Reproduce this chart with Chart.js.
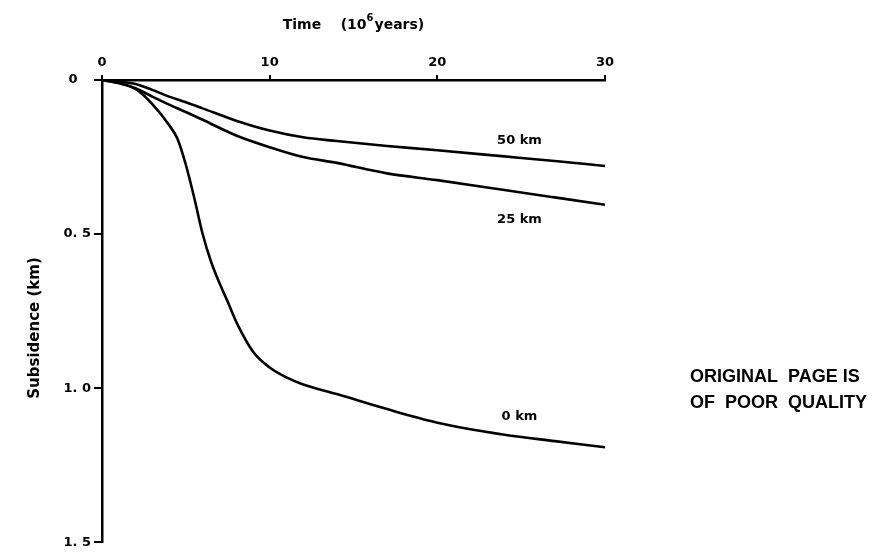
<!DOCTYPE html>
<html>
<head>
<meta charset="utf-8">
<script src="https://cdn.jsdelivr.net/npm/chart.js@4.4.1/dist/chart.umd.min.js"></script>
<style>
  html, body { margin: 0; padding: 0; background: #fff; }
  #wrap { width: 885px; height: 553px; }
</style>
</head>
<body>
<div id="wrap"><canvas id="chart" width="885" height="553"></canvas></div>
<script>
// ===== Data (time in 10^6 years, subsidence in km) =====
const xTicks = [0, 10, 20, 30];
const yTicks = [0, 0.5, 1.0, 1.5];
const yTickLabels = ['0   ', '0. 5', '1. 0', '1. 5'];

const times50 = [0, 1, 2, 3, 4, 5, 6, 8, 10, 12, 14, 17, 20, 24, 27, 30];
const subsidence50 = [0, 0.005, 0.013, 0.032, 0.054, 0.072, 0.092, 0.132, 0.164, 0.186, 0.198, 0.214, 0.228, 0.248, 0.263, 0.279];

const times25 = [0, 1, 2, 3, 4, 5, 6, 8, 10, 12, 14, 17, 20, 24, 27, 30];
const subsidence25 = [0, 0.01, 0.027, 0.054, 0.08, 0.104, 0.129, 0.18, 0.218, 0.25, 0.269, 0.303, 0.325, 0.357, 0.381, 0.405];

const times0 = [0, 1, 2, 3, 4, 4.5, 5, 5.5, 6, 6.5, 7, 7.5, 8, 9, 10, 11, 12, 14, 17, 20, 24, 27, 30];
const subsidence0 = [0, 0.01, 0.029, 0.078, 0.146, 0.191, 0.275, 0.382, 0.499, 0.589, 0.658, 0.72, 0.784, 0.881, 0.933, 0.965, 0.988, 1.019, 1.068, 1.112, 1.151, 1.172, 1.192];

const curveNames = ['50 km', '25 km', '0 km'];

// label anchors in data units
const curveLabelTimes = [24.9, 24.9, 24.9];
const curveLabelDepths = [0.198, 0.454, 1.092];

const FONT = 'DejaVu Sans';

function toPoints(times, values) {
  return times.map((t, i) => ({ x: t, y: values[i] }));
}

function lineDataset(label, times, values) {
  return {
    label,
    data: toPoints(times, values),
    borderColor: '#000',
    borderWidth: 2.6,
    pointRadius: 0,
    fill: false,
    cubicInterpolationMode: 'monotone',
  };
}

// ===== Text overlay =====
const textPlugin = {
  id: 'textOverlay',
  afterDraw(chart) {
    const { ctx, scales } = chart;
    ctx.save();
    ctx.fillStyle = '#000';
    ctx.textBaseline = 'middle';

    // top title with superscript
    const mainFont = `bold 14px "${FONT}"`;
    const supFont = `bold 10px "${FONT}"`;
    const partA = 'Time    (10';
    const partB = '6';
    const partC = 'years)';
    ctx.font = mainFont;
    const wA = ctx.measureText(partA).width;
    const wC = ctx.measureText(partC).width;
    ctx.font = supFont;
    const wB = ctx.measureText(partB).width + 1;
    const cx = (chart.chartArea.left + chart.chartArea.right) / 2;
    const x = cx - (wA + wB + wC) / 2;
    const y = 25;
    ctx.textAlign = 'left';
    ctx.font = mainFont;
    ctx.fillText(partA, x, y);
    ctx.font = supFont;
    ctx.fillText(partB, x + wA, y - 7);
    ctx.font = mainFont;
    ctx.fillText(partC, x + wA + wB, y);

    // left title
    ctx.save();
    ctx.translate(35, 328);
    ctx.rotate(-Math.PI / 2);
    ctx.textAlign = 'center';
    ctx.font = `bold 15px "${FONT}"`;
    ctx.fillText('Subsidence (km)', 0, 0);
    ctx.restore();

    // curve labels
    ctx.textAlign = 'center';
    ctx.font = `bold 13px "${FONT}"`;
    curveNames.forEach((name, i) => {
      const px = scales.x.getPixelForValue(curveLabelTimes[i]);
      const py = scales.y.getPixelForValue(curveLabelDepths[i]);
      ctx.fillText(name, px, py);
    });

    // scan stamp
    ctx.textAlign = 'left';
    ctx.font = 'bold 18px "Liberation Sans"';
    ctx.fillText('ORIGINAL  PAGE IS', 690, 377);
    ctx.fillText('OF  POOR  QUALITY', 690, 403);
    ctx.restore();
  },
};

// ===== Chart =====
new Chart(document.getElementById('chart'), {
  type: 'line',
  data: {
    datasets: [
      lineDataset(curveNames[0], times50, subsidence50),
      lineDataset(curveNames[1], times25, subsidence25),
      lineDataset(curveNames[2], times0, subsidence0),
    ],
  },
  options: {
    responsive: false,
    animation: false,
    devicePixelRatio: 1,
    layout: { padding: { left: 0, top: 0, right: 280, bottom: 10 } },
    plugins: { legend: { display: false }, tooltip: { enabled: false } },
    scales: {
      x: {
        type: 'linear',
        position: 'top',
        min: 0,
        max: 30,
        afterBuildTicks: (scale) => { scale.ticks = xTicks.map((v) => ({ value: v })); },
        afterFit: (scale) => { scale.height = 80; },
        grid: { drawOnChartArea: false, tickLength: 5, color: '#000', lineWidth: 2 },
        border: { color: '#000', width: 2.5 },
        ticks: { color: '#000', padding: 5, maxRotation: 0, font: { family: FONT, weight: 'bold', size: 13 } },
      },
      y: {
        type: 'linear',
        position: 'left',
        reverse: true,
        min: 0,
        max: 1.5,
        afterBuildTicks: (scale) => { scale.ticks = yTicks.map((v) => ({ value: v })); },
        afterFit: (scale) => { scale.width = 102; },
        grid: { drawOnChartArea: false, tickLength: 8, color: '#000', lineWidth: 2 },
        border: { color: '#000', width: 2.5 },
        ticks: {
          color: '#000',
          padding: 3,
          font: { family: FONT, weight: 'bold', size: 13 },
          callback: (value, index) => yTickLabels[index],
        },
      },
    },
  },
  plugins: [textPlugin],
});
</script>
</body>
</html>
